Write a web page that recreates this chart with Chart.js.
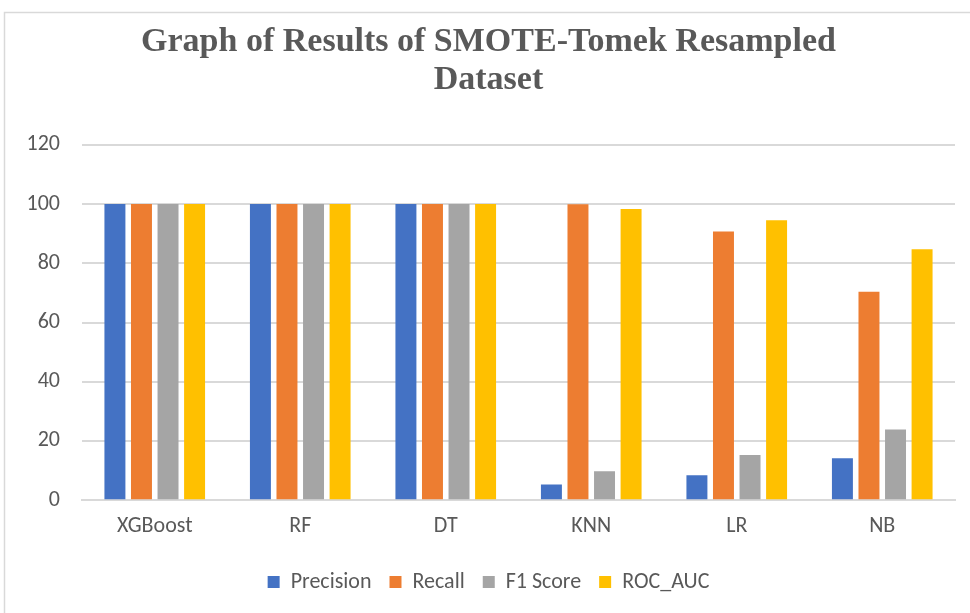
<!DOCTYPE html>
<html>
<head>
<meta charset="utf-8">
<script src="https://cdn.jsdelivr.net/npm/chart.js@4.4.0/dist/chart.umd.min.js"></script>
<style>
  html, body { margin: 0; padding: 0; background: #fff; }
  #wrap { position: relative; width: 970px; height: 613px; }
</style>
</head>
<body>
<div id="wrap"><canvas id="chart"></canvas></div>
<script>
// categories and series
const models = ["XGBoost", "RF", "DT", "KNN", "LR", "NB"];
const precision = [100, 100, 100, 5.3, 8.4, 14.2];
const recall = [100, 100, 100, 99.9, 90.7, 70.4];
const f1Score = [100, 100, 100, 9.8, 15.3, 23.9];
const rocAuc = [100, 100, 100, 98.3, 94.5, 84.7];

const textGray = "#595959";
const gridGray = "#d9d9d9";
const sans = "Carlito, Lato, 'Open Sans', sans-serif";

// thin frame like the office chart area border
const framePlugin = {
    id: "frame",
    beforeDraw(chart) {
        const ctx = chart.ctx;
        ctx.save();
        ctx.fillStyle = "#fff";
        ctx.fillRect(0, 0, chart.width, chart.height);
        ctx.strokeStyle = gridGray;
        ctx.lineWidth = 1.5;
        ctx.strokeRect(4.5, 12.5, 1000, 1000);
        ctx.restore();
    },
};

const ctx = document.getElementById("chart").getContext("2d");

new Chart(ctx, {
    type: "bar",
    data: {
        labels: models,
        datasets: [
            { label: "Precision", data: precision, backgroundColor: "#4472C4" },
            { label: "Recall", data: recall, backgroundColor: "#ED7D31" },
            { label: "F1 Score", data: f1Score, backgroundColor: "#A5A5A5" },
            { label: "ROC_AUC", data: rocAuc, backgroundColor: "#FFC000" },
        ],
    },
    options: {
        responsive: true,
        maintainAspectRatio: false,
        animation: false,
        datasets: {
            bar: { barPercentage: 0.79, categoryPercentage: 0.73 },
        },
        layout: { padding: { left: 22, right: 15, top: 24, bottom: 10 } },
        plugins: {
            title: {
                display: true,
                text: ["Graph of Results of SMOTE-Tomek Resampled", "Dataset"],
                color: textGray,
                font: { family: "'Liberation Serif', 'Times New Roman', serif", size: 34, weight: "bold", lineHeight: 1.1 },
                padding: { top: 0, bottom: 46 },
            },
            legend: {
                position: "bottom",
                labels: {
                    color: textGray,
                    font: { family: sans, size: 22 },
                    boxWidth: 12,
                    boxHeight: 12,
                    padding: 18,
                },
            },
            tooltip: { enabled: false },
        },
        scales: {
            x: {
                grid: { display: false, drawTicks: false },
                border: { color: gridGray, width: 2 },
                ticks: {
                    color: textGray,
                    padding: 11,
                    font: { family: sans, size: 22, lineHeight: 1.4 },
                },
            },
            y: {
                min: 0,
                max: 120,
                afterFit(scale) { scale.width = 60; },
                grid: { color: gridGray, lineWidth: 2, drawTicks: false },
                border: { display: false },
                ticks: {
                    stepSize: 20,
                    color: textGray,
                    padding: 22,
                    font: { family: sans, size: 22 },
                },
            },
        },
    },
    plugins: [framePlugin],
});
</script>
</body>
</html>
